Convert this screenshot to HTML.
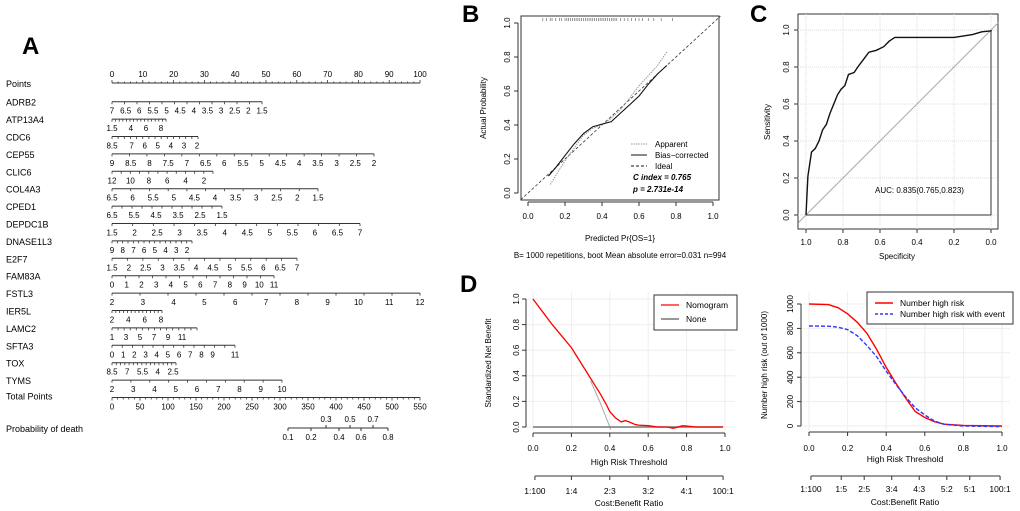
<!DOCTYPE html>
<html><head><meta charset="utf-8"><style>
html,body{margin:0;padding:0;background:#fff;}
svg{display:block;font-family:"Liberation Sans",Arial,sans-serif;}
</style></head><body>
<svg id="fig" width="1020" height="511" viewBox="0 0 1020 511" xmlns="http://www.w3.org/2000/svg">
<g id="pA"></g>
<g id="pB"></g>
<g id="pC"></g>
<g id="pD1"></g>
<g id="pD2"></g>
</svg>
<script>
// ---------- data ----------
const nomoNames = ["ADRB2","ATP13A4","CDC6","CEP55","CLIC6","COL4A3","CPED1","DEPDC1B","DNASE1L3","E2F7","FAM83A","FSTL3","IER5L","LAMC2","SFTA3","TOX","TYMS"];
const nomoV0 = [7,1.5,8.5,9,12,6.5,6.5,1.5,9,1.5,0,2,2,1,0,8.5,2];
const nomoV1 = [1.5,8,2,2,2,1.5,1.5,7,2,7,11,12,8,11,11,2.5,10];
const nomoX1 = [262,161,197,374,204,318,222,360,187,297,274,420,161,182,235,173,282];
const nomoEnd = [262,166,198,374,213,318,222,360,192,297,274,420,162,197,235,176,282];
const nomoLabels = [
 [7,6.5,6,5.5,5,4.5,4,3.5,3,2.5,2,1.5],[1.5,4,6,8],[8.5,7,6,5,4,3,2],
 [9,8.5,8,7.5,7,6.5,6,5.5,5,4.5,4,3.5,3,2.5,2],[12,10,8,6,4,2],
 [6.5,6,5.5,5,4.5,4,3.5,3,2.5,2,1.5],[6.5,5.5,4.5,3.5,2.5,1.5],
 [1.5,2,2.5,3,3.5,4,4.5,5,5.5,6,6.5,7],[9,8,7,6,5,4,3,2],
 [1.5,2,2.5,3,3.5,4,4.5,5,5.5,6,6.5,7],[0,1,2,3,4,5,6,7,8,9,10,11],
 [2,3,4,5,6,7,8,9,10,11,12],[2,4,6,8],[1,3,5,7,9,11],[0,1,2,3,4,5,6,7,8,9,11],
 [8.5,7,5.5,4,2.5],[2,3,4,5,6,7,8,9,10]];
const nomoMinorCount = [12,15,14,15,11,11,11,12,15,12,12,11,13,14,12,15,9];
const pointTicks = [0,10,20,30,40,50,60,70,80,90,100];
const totalTicks = [0,50,100,150,200,250,300,350,400,450,500,550];
const probTop = [0.3,0.5,0.7], probTopX = [326,350,373];
const probBot = [0.1,0.2,0.4,0.6,0.8], probBotX = [288,311,339,361,388];

const calX_bias = [0.11,0.15,0.2,0.25,0.3,0.35,0.4,0.45,0.5,0.55,0.6,0.65,0.7,0.75];
const calY_bias = [0.10,0.15,0.22,0.29,0.35,0.39,0.405,0.42,0.47,0.52,0.57,0.64,0.70,0.75];
const calX_app = [0.12,0.2,0.3,0.35,0.4,0.45,0.5,0.55,0.6,0.65,0.7,0.75];
const calY_app = [0.05,0.19,0.34,0.38,0.40,0.44,0.49,0.56,0.63,0.69,0.75,0.83];
const rugX = [0.08,0.1,0.12,0.13,0.15,0.17,0.18,0.2,0.21,0.22,0.23,0.24,0.25,0.26,0.27,0.28,0.29,0.3,0.31,0.32,0.33,0.34,0.35,0.36,0.37,0.38,0.39,0.4,0.41,0.42,0.43,0.44,0.45,0.46,0.47,0.48,0.5,0.52,0.54,0.56,0.58,0.6,0.62,0.65,0.68,0.72,0.78];

const rocSpec = [1,0.995,0.99,0.97,0.95,0.93,0.91,0.89,0.87,0.85,0.83,0.81,0.79,0.77,0.74,0.72,0.69,0.66,0.62,0.58,0.55,0.52,0.4,0.2,0.1,0.05,0,0];
const rocSens = [0,0.1,0.21,0.34,0.36,0.40,0.46,0.49,0.55,0.60,0.65,0.68,0.70,0.76,0.77,0.80,0.84,0.88,0.89,0.91,0.94,0.96,0.96,0.96,0.975,0.99,0.995,1.0];

const dcaT = [0,0.05,0.1,0.15,0.2,0.25,0.3,0.35,0.38,0.4,0.43,0.46,0.48,0.5,0.53,0.55,0.6,0.65,0.7,0.73,0.78,0.85,0.99];
const dcaNB = [1,0.9,0.8,0.71,0.62,0.5,0.38,0.26,0.18,0.12,0.07,0.04,0.05,0.04,0.02,0.015,0.01,0.0,0.0,-0.01,0.01,0,0];
const allT = [0.3,0.35,0.4,0.405];
const allNB = [0.36,0.19,0.0,-0.02];

const hrT = [0,0.1,0.15,0.2,0.25,0.3,0.35,0.4,0.45,0.5,0.55,0.6,0.65,0.7,0.8,1];
const hrAll = [1000,995,970,920,850,760,630,480,350,230,120,70,35,15,5,0];
const hrEvent = [820,818,810,790,740,660,570,450,340,240,150,90,40,15,0,-5];
const ratioL = ["1:100","1:4","2:3","3:2","4:1","100:1"], ratioLT = [0.01,0.2,0.4,0.6,0.8,0.99];
const ratioR = ["1:100","1:5","2:5","3:4","4:3","5:2","5:1","100:1"], ratioRT = [0.01,0.167,0.286,0.4286,0.571,0.714,0.833,0.99];

// ---------- helpers ----------
const NS="http://www.w3.org/2000/svg";
function el(p,tag,a,txt){const e=document.createElementNS(NS,tag);for(const k in a)e.setAttribute(k,a[k]);if(txt!==undefined)e.textContent=txt;p.appendChild(e);return e;}
function lin(d0,d1,r0,r1){return v=>r0+(v-d0)/(d1-d0)*(r1-r0);}
function pts(xs,ys,fx,fy){return xs.map((x,i)=>fx(x).toFixed(1)+","+fy(ys[i]).toFixed(1)).join(" ");}

// ---------- A nomogram ----------
const A=document.getElementById('pA');
let t=el(A,'text',{x:22,y:54,'font-size':24,'font-weight':'bold'},'A');


const px=lin(0,100,112,420);
t=el(A,'text',{x:6,y:87,'font-size':9},'Points');


el(A,'line',{x1:112,y1:83,x2:420,y2:83,stroke:'#333','stroke-width':1});
for(let v=0;v<=100;v+=2){el(A,'line',{x1:px(v),y1:83,x2:px(v),y2:v%10==0?80:81.5,stroke:'#333','stroke-width':0.8});}
pointTicks.forEach(v=>el(A,'text',{x:px(v),y:77,'font-size':8,'text-anchor':'middle'},v));
nomoNames.forEach((n,i)=>{
  const y=101.7+17.4*i;
  const g=el(A,'g',{});
  
  
  el(g,'text',{x:6,y:y+4,'font-size':9},n);
  const f=lin(nomoV0[i],nomoV1[i],112,nomoX1[i]);
  el(g,'line',{x1:112,y1:y,x2:nomoEnd[i],y2:y,stroke:'#333','stroke-width':1});
  const m=nomoMinorCount[i];
  for(let k=0;k<=m;k++){const xx=112+(nomoEnd[i]-112)*k/m;el(g,'line',{x1:xx,y1:y,x2:xx,y2:y+2.5,stroke:'#333','stroke-width':0.8});}
  nomoLabels[i].forEach(v=>el(g,'text',{x:f(v),y:y+12,'font-size':8,'text-anchor':'middle'},v));
});
const yT=101.7+17.4*17;
t=el(A,'text',{x:6,y:yT+2,'font-size':9},'Total Points');


const tx=lin(0,550,112,420);
el(A,'line',{x1:112,y1:yT,x2:420,y2:yT,stroke:'#333','stroke-width':1});
for(let v=0;v<=550;v+=10)el(A,'line',{x1:tx(v),y1:yT,x2:tx(v),y2:yT+(v%50==0?3:2),stroke:'#333','stroke-width':0.8});
totalTicks.forEach(v=>el(A,'text',{x:tx(v),y:yT+12,'font-size':8,'text-anchor':'middle'},v));
t=el(A,'text',{x:6,y:432,'font-size':9},'Probability of death');


el(A,'line',{x1:288,y1:428,x2:388,y2:428,stroke:'#333','stroke-width':1});
probTop.forEach((v,i)=>{el(A,'line',{x1:probTopX[i],y1:428,x2:probTopX[i],y2:425,stroke:'#333'});el(A,'text',{x:probTopX[i],y:422,'font-size':8,'text-anchor':'middle'},v);});
probBot.forEach((v,i)=>{el(A,'line',{x1:probBotX[i],y1:428,x2:probBotX[i],y2:431,stroke:'#333'});el(A,'text',{x:probBotX[i],y:440,'font-size':8,'text-anchor':'middle'},v);});

// ---------- B calibration ----------
const B=document.getElementById('pB');
t=el(B,'text',{x:462,y:22,'font-size':24,'font-weight':'bold'},'B');


const bx=lin(0,1,528,713), by=lin(0,1,193,23);
el(B,'rect',{x:521,y:16,width:198,height:184,fill:'none',stroke:'#333'});
el(B,'line',{x1:bx(0),y1:202,x2:bx(1),y2:202,stroke:'#333'});
[0,0.2,0.4,0.6,0.8,1].forEach(v=>{el(B,'line',{x1:bx(v),y1:202,x2:bx(v),y2:206,stroke:'#333'});el(B,'text',{x:bx(v),y:219,'font-size':8,'text-anchor':'middle'},v.toFixed(1));});
el(B,'line',{x1:518,y1:by(0),x2:518,y2:by(1),stroke:'#333'});
[0,0.2,0.4,0.6,0.8,1].forEach(v=>{el(B,'line',{x1:514,y1:by(v),x2:518,y2:by(v),stroke:'#333'});el(B,'text',{x:510,y:by(v),'font-size':8,'text-anchor':'middle',transform:`rotate(-90 510 ${by(v)})`},v.toFixed(1));});
el(B,'text',{x:486,y:108,'font-size':8,'text-anchor':'middle',transform:'rotate(-90 486 108)'},'Actual Probability');
el(B,'text',{x:620,y:241,'font-size':8,'text-anchor':'middle'},'Predicted Pr{OS=1}');
el(B,'text',{x:620,y:258,'font-size':8,'text-anchor':'middle'},'B= 1000 repetitions, boot    Mean absolute error=0.031 n=994');
let ideal=el(B,'line',{x1:bx(-0.04),y1:by(-0.04),x2:bx(1.04),y2:by(1.04),stroke:'#333','stroke-dasharray':'3,2','stroke-width':0.8});


rugX.forEach(v=>el(B,'line',{x1:bx(v),y1:18,x2:bx(v),y2:21,stroke:'#555','stroke-width':0.6}));
let app=el(B,'polyline',{points:pts(calX_app,calY_app,bx,by),fill:'none',stroke:'#999','stroke-dasharray':'1.5,1','stroke-width':1});


let bias=el(B,'polyline',{points:pts(calX_bias,calY_bias,bx,by),fill:'none',stroke:'#111','stroke-width':1.1});


const lg=el(B,'g',{});


el(lg,'line',{x1:631,y1:144,x2:647,y2:144,stroke:'#999','stroke-dasharray':'1.5,1'});
el(lg,'text',{x:655,y:147,'font-size':8},'Apparent');
el(lg,'line',{x1:631,y1:155,x2:647,y2:155,stroke:'#111'});
el(lg,'text',{x:655,y:158,'font-size':8},'Bias−corrected');
el(lg,'line',{x1:631,y1:166,x2:647,y2:166,stroke:'#111','stroke-dasharray':'3,2'});
el(lg,'text',{x:655,y:169,'font-size':8},'Ideal');
el(lg,'text',{x:633,y:180,'font-size':8,'font-weight':'bold','font-style':'italic'},'C index = 0.765');
el(lg,'text',{x:633,y:192,'font-size':8,'font-weight':'bold','font-style':'italic'},'p = 2.731e-14');

// ---------- C ROC ----------
const C=document.getElementById('pC');
t=el(C,'text',{x:750,y:22,'font-size':24,'font-weight':'bold'},'C');


const cx=lin(1,0,806,991), cy=lin(0,1,215,30);
el(C,'rect',{x:798,y:14,width:200,height:215,fill:'none',stroke:'#333'});
[0,0.2,0.4,0.6,0.8,1].forEach(v=>{
  el(C,'line',{x1:cx(v),y1:14,x2:cx(v),y2:229,stroke:'#ddd','stroke-dasharray':'1,1'});
  el(C,'line',{x1:798,y1:cy(v),x2:998,y2:cy(v),stroke:'#ddd','stroke-dasharray':'1,1'});
  el(C,'line',{x1:cx(v),y1:229,x2:cx(v),y2:233,stroke:'#333'});
  el(C,'text',{x:cx(v),y:245,'font-size':8,'text-anchor':'middle'},v.toFixed(1));
  el(C,'line',{x1:794,y1:cy(v),x2:798,y2:cy(v),stroke:'#333'});
  el(C,'text',{x:789,y:cy(v),'font-size':8,'text-anchor':'middle',transform:`rotate(-90 789 ${cy(v)})`},v.toFixed(1));
});
el(C,'text',{x:897,y:259,'font-size':8,'text-anchor':'middle'},'Specificity');
el(C,'text',{x:770,y:122,'font-size':8,'text-anchor':'middle',transform:'rotate(-90 770 122)'},'Sensitivity');
el(C,'line',{x1:cx(1.04),y1:cy(-0.04),x2:cx(-0.04),y2:cy(1.04),stroke:'#aaa'});
el(C,'polyline',{points:`${cx(1)},${cy(0)} ${cx(0)},${cy(0)} ${cx(0)},${cy(1)}`,fill:'none',stroke:'#333'});
let roc=el(C,'polyline',{points:pts(rocSpec,rocSens,cx,cy),fill:'none',stroke:'#111','stroke-width':1.4});


el(C,'text',{x:875,y:193,'font-size':8},'AUC: 0.835(0.765,0.823)');

// ---------- D left DCA ----------
const D=document.getElementById('pD1');
t=el(D,'text',{x:460,y:292,'font-size':24,'font-weight':'bold'},'D');


const dx=lin(0,1,533,725), dy=lin(0,1,427,299);
[0,0.2,0.4,0.6,0.8,1].forEach(v=>{
  el(D,'line',{x1:dx(v),y1:292,x2:dx(v),y2:430,stroke:'#eee'});
  el(D,'line',{x1:525,y1:dy(v),x2:735,y2:dy(v),stroke:'#eee'});
  el(D,'line',{x1:dx(v),y1:433,x2:dx(v),y2:437,stroke:'#333'});
  el(D,'text',{x:dx(v),y:451,'font-size':8,'text-anchor':'middle'},v.toFixed(1));
  el(D,'line',{x1:522,y1:dy(v),x2:526,y2:dy(v),stroke:'#333'});
  el(D,'text',{x:519,y:dy(v),'font-size':8,'text-anchor':'middle',transform:`rotate(-90 519 ${dy(v)})`},v.toFixed(1));
});
el(D,'line',{x1:dx(0),y1:433,x2:dx(1),y2:433,stroke:'#333'});
el(D,'line',{x1:526,y1:dy(0),x2:526,y2:dy(1),stroke:'#333'});
el(D,'text',{x:629,y:465,'font-size':8.5,'text-anchor':'middle'},'High Risk Threshold');
el(D,'line',{x1:dx(ratioLT[0]),y1:476,x2:dx(ratioLT[ratioLT.length-1]),y2:476,stroke:'#333'});
ratioL.forEach((r,i)=>{el(D,'line',{x1:dx(ratioLT[i]),y1:476,x2:dx(ratioLT[i]),y2:480,stroke:'#333'});el(D,'text',{x:dx(ratioLT[i]),y:494,'font-size':8.5,'text-anchor':'middle'},r);});
el(D,'text',{x:629,y:506,'font-size':8.5,'text-anchor':'middle'},'Cost:Benefit Ratio');
el(D,'text',{x:491,y:363,'font-size':8,'text-anchor':'middle',transform:'rotate(-90 491 363)'},'Standardized Net Benefit');
let allL=el(D,'polyline',{points:pts(allT,allNB,dx,dy),fill:'none',stroke:'#aaa','stroke-width':1});


let none=el(D,'line',{x1:dx(0),y1:dy(0),x2:dx(0.99),y2:dy(0),stroke:'#777','stroke-width':1.5});


let nomo=el(D,'polyline',{points:pts(dcaT,dcaNB,dx,dy),fill:'none',stroke:'#f00','stroke-width':1.3});


const lg2=el(D,'g',{});


el(lg2,'rect',{x:654,y:295,width:83,height:35,fill:'#fff',stroke:'#333'});
el(lg2,'line',{x1:661,y1:305,x2:679,y2:305,stroke:'#f00','stroke-width':1.3});
el(lg2,'text',{x:686,y:308,'font-size':8.5},'Nomogram');
el(lg2,'line',{x1:661,y1:319,x2:679,y2:319,stroke:'#777','stroke-width':1.5});
el(lg2,'text',{x:686,y:322,'font-size':8.5},'None');

// ---------- D right clinical impact ----------
const E=document.getElementById('pD2');
const ex=lin(0,1,809,1002), ey=lin(0,1000,426,304);
[0,0.2,0.4,0.6,0.8,1].forEach(v=>{
  el(E,'line',{x1:ex(v),y1:292,x2:ex(v),y2:430,stroke:'#eee'});
  el(E,'line',{x1:ex(v),y1:432,x2:ex(v),y2:436,stroke:'#333'});
  el(E,'text',{x:ex(v),y:451,'font-size':8,'text-anchor':'middle'},v.toFixed(1));
});
[0,200,400,600,800,1000].forEach(v=>{
  el(E,'line',{x1:800,y1:ey(v),x2:1010,y2:ey(v),stroke:'#eee'});
  el(E,'line',{x1:797,y1:ey(v),x2:801,y2:ey(v),stroke:'#333'});
  el(E,'text',{x:793,y:ey(v),'font-size':8,'text-anchor':'middle',transform:`rotate(-90 793 ${ey(v)})`},v);
});
el(E,'line',{x1:ex(0),y1:432,x2:ex(1),y2:432,stroke:'#333'});
el(E,'line',{x1:801,y1:ey(0),x2:801,y2:ey(1000),stroke:'#333'});
el(E,'text',{x:905,y:462,'font-size':8.5,'text-anchor':'middle'},'High Risk Threshold');
el(E,'line',{x1:ex(ratioRT[0]),y1:476,x2:ex(ratioRT[ratioRT.length-1]),y2:476,stroke:'#333'});
ratioR.forEach((r,i)=>{el(E,'line',{x1:ex(ratioRT[i]),y1:476,x2:ex(ratioRT[i]),y2:480,stroke:'#333'});el(E,'text',{x:ex(ratioRT[i]),y:492,'font-size':8.5,'text-anchor':'middle'},r);});
el(E,'text',{x:905,y:505,'font-size':8.5,'text-anchor':'middle'},'Cost:Benefit Ratio');
el(E,'text',{x:767,y:365,'font-size':8,'text-anchor':'middle',transform:'rotate(-90 767 365)'},'Number high risk (out of 1000)');
let hr=el(E,'polyline',{points:pts(hrT,hrAll,ex,ey),fill:'none',stroke:'#f00','stroke-width':1.4});


let hre=el(E,'polyline',{points:pts(hrT,hrEvent,ex,ey),fill:'none',stroke:'#33f','stroke-width':1.4,'stroke-dasharray':'4,2'});


const lg3=el(E,'g',{});


el(lg3,'rect',{x:867,y:292,width:146,height:32,fill:'#fff',stroke:'#333'});
el(lg3,'line',{x1:875,y1:303,x2:893,y2:303,stroke:'#f00','stroke-width':1.4});
el(lg3,'text',{x:900,y:306,'font-size':8.5},'Number high risk');
el(lg3,'line',{x1:875,y1:314,x2:893,y2:314,stroke:'#33f','stroke-width':1.4,'stroke-dasharray':'3,2'});
el(lg3,'text',{x:900,y:317,'font-size':8.5},'Number high risk with event');
</script>
</body></html>
